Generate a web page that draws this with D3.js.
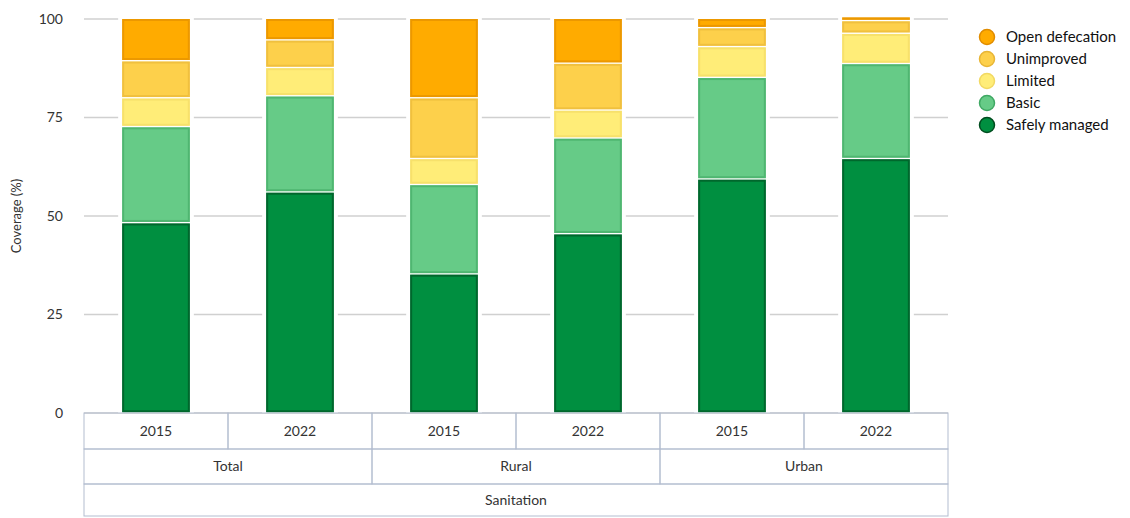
<!DOCTYPE html>
<html>
<head>
<meta charset="utf-8">
<script src="https://cdn.jsdelivr.net/npm/d3@7"></script>
<style>
  body { margin: 0; background: #fff; }
  text { font-family: Lato, "Open Sans", sans-serif; fill: #333; }
</style>
</head>
<body>
<div id="chart"></div>
<script>
const groups = ['Total', 'Rural', 'Urban'];
const years = ['2015', '2022'];
const levels = ['Safely managed', 'Basic', 'Limited', 'Unimproved', 'Open defecation'];
const colors = ['#008f40', '#66cb87', '#ffed78', '#fdd04b', '#ffab00'];
const edges = ['#004d1f', '#3fa863', '#f2d962', '#e8b535', '#e08c00'];

// one row per bar: safely managed, basic, limited, unimproved, open defecation
const safely = [48.3, 56.1, 35.3, 45.5, 59.4, 64.6];
const basic = [24.4, 24.4, 22.7, 24.3, 25.8, 24.1];
const limited = [7.3, 7.2, 6.6, 7.1, 7.8, 7.7];
const unimproved = [9.4, 7.0, 15.4, 11.9, 4.8, 3.2];
const openDef = [10.6, 5.3, 20.0, 11.2, 2.2, 0.8];
const yTicks = [0, 25, 50, 75, 100];

const width = 1130, height = 518;
const x0 = 84, x1 = 948, yTop = 19, yBot = 413;

const svg = d3.select('#chart').append('svg')
    .attr('width', width)
    .attr('height', height);

const bars = [];
groups.forEach((g, gi) => years.forEach((yr, yi) => {
    const i = gi * 2 + yi;
    bars.push({ key: g + ' ' + yr, group: g, year: yr,
        values: [safely[i], basic[i], limited[i], unimproved[i], openDef[i]] });
}));

const x = d3.scaleBand().domain(bars.map(d => d.key)).range([x0, x1]).paddingInner(0.53).paddingOuter(0.265);
const xCell = d3.scaleBand().domain(bars.map(d => d.key)).range([x0, x1]);
const y = d3.scaleLinear().domain([0, 100]).range([yBot, yTop]);

// gridlines (broken by bars)
svg.append('g').selectAll('line')
    .data(yTicks)
    .enter().append('line')
    .attr('x1', x0).attr('x2', x1)
    .attr('y1', d => y(d)).attr('y2', d => y(d))
    .attr('stroke', '#d0d0d0')
    .attr('stroke-width', 1.5);

svg.append('g').selectAll('text')
    .data(yTicks)
    .enter().append('text')
    .attr('x', 63)
    .attr('y', d => y(d))
    .attr('dy', '0.35em')
    .attr('text-anchor', 'end')
    .style('font-size', '14px')
    .text(d => d);

svg.append('text')
    .attr('transform', `translate(21,${(yTop + yBot) / 2}) rotate(-90)`)
    .attr('text-anchor', 'middle')
    .style('font-size', '13px')
    .text('Coverage (%)');

// stacked bars
const barG = svg.append('g').selectAll('g')
    .data(bars)
    .enter().append('g');

barG.each(function(b) {
    const g = d3.select(this);
    const bw = x.bandwidth();
    // white gap around bar hides gridlines
    g.append('rect')
        .attr('x', x(b.key) - 4).attr('width', bw + 8)
        .attr('y', yTop - 1).attr('height', yBot - yTop + 1)
        .attr('fill', '#fff');
    let acc = 0;
    b.values.forEach((v, li) => {
        const top = y(acc + v), bottom = y(acc);
        acc += v;
        const t = li === b.values.length - 1 ? top : top + 0.75;
        const h = Math.max(0, bottom - 0.75 - t);
        if (h <= 0) return;
        g.append('rect')
            .attr('x', x(b.key)).attr('width', bw)
            .attr('y', t).attr('height', h)
            .attr('fill', colors[li]);
        g.append('rect')
            .attr('x', x(b.key) + 1).attr('width', bw - 2)
            .attr('y', t + 1).attr('height', Math.max(0, h - 2))
            .attr('fill', 'none')
            .attr('stroke', edges[li])
            .attr('stroke-width', 2)
            .attr('stroke-opacity', 0.6);
    });
});

// category table below the axis
const tableColor = '#b3bdd0';
const rows = [yBot, 449, 484, 517];
const table = svg.append('g');

table.selectAll('.yearCell')
    .data(bars)
    .enter().append('rect')
    .attr('x', d => xCell(d.key)).attr('width', xCell.bandwidth())
    .attr('y', rows[0]).attr('height', rows[1] - rows[0])
    .attr('fill', 'none').attr('stroke', tableColor);

table.selectAll('.yearText')
    .data(bars)
    .enter().append('text')
    .attr('x', d => xCell(d.key) + xCell.bandwidth() / 2)
    .attr('y', (rows[0] + rows[1]) / 2)
    .attr('dy', '0.35em')
    .attr('text-anchor', 'middle')
    .style('font-size', '14px')
    .text(d => d.year);

const gw = xCell.bandwidth() * 2;
table.selectAll('.groupCell')
    .data(groups)
    .enter().append('rect')
    .attr('x', (d, i) => x0 + i * gw).attr('width', gw)
    .attr('y', rows[1]).attr('height', rows[2] - rows[1])
    .attr('fill', 'none').attr('stroke', tableColor);

table.selectAll('.groupText')
    .data(groups)
    .enter().append('text')
    .attr('x', (d, i) => x0 + i * gw + gw / 2)
    .attr('y', (rows[1] + rows[2]) / 2)
    .attr('dy', '0.35em')
    .attr('text-anchor', 'middle')
    .style('font-size', '14px')
    .text(d => d);

table.append('rect')
    .attr('x', x0).attr('width', x1 - x0)
    .attr('y', rows[2]).attr('height', rows[3] - rows[2] - 1)
    .attr('fill', 'none').attr('stroke', tableColor);

table.append('text')
    .attr('x', (x0 + x1) / 2)
    .attr('y', (rows[2] + rows[3]) / 2)
    .attr('dy', '0.35em')
    .attr('text-anchor', 'middle')
    .style('font-size', '14px')
    .text('Sanitation');

// legend
const legendItems = levels.map((l, i) => ({ label: l, color: colors[i], edge: edges[i] })).reverse();
const legend = svg.append('g').selectAll('g')
    .data(legendItems)
    .enter().append('g')
    .attr('transform', (d, i) => `translate(987,${37 + i * 22})`);

legend.append('circle')
    .attr('r', 7.5)
    .attr('fill', d => d.color)
    .attr('stroke', d => d.edge)
    .attr('stroke-width', 1.5);

legend.append('text')
    .attr('x', 19)
    .attr('dy', '0.35em')
    .style('font-size', '15px')
    .style('fill', '#111')
    .text(d => d.label);
</script>
</body>
</html>
